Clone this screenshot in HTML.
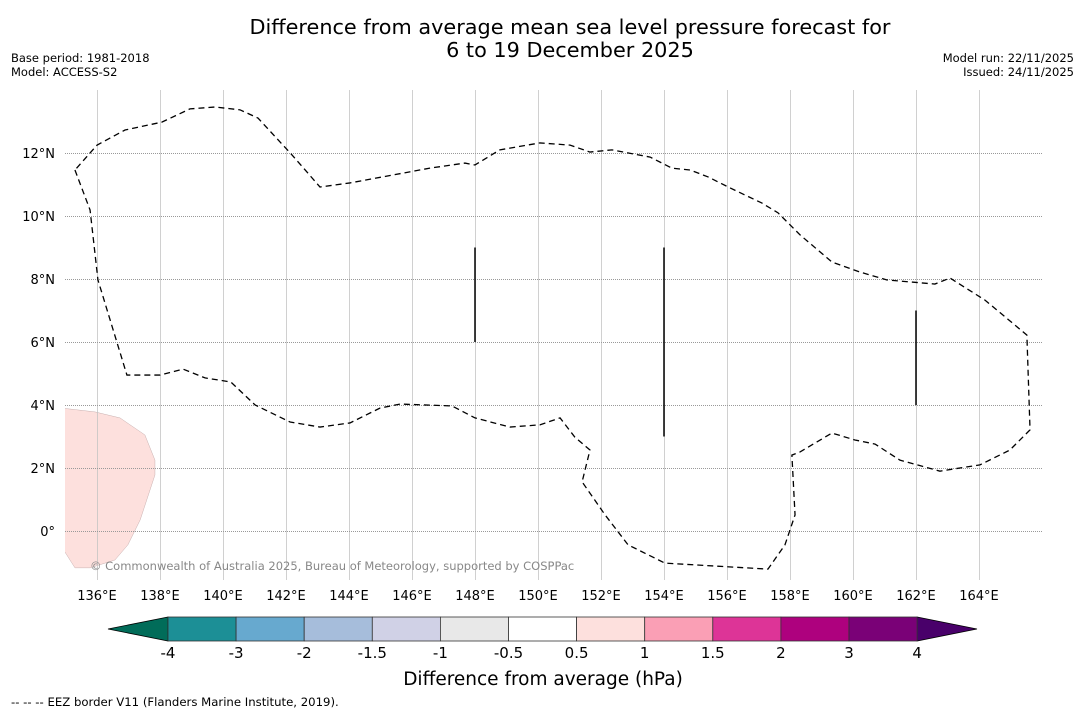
<!DOCTYPE html>
<html><head><meta charset="utf-8"><style>
body{margin:0;background:#fff;width:1085px;height:713px;overflow:hidden;font-family:"DejaVu Sans","Liberation Sans",sans-serif}
svg{display:block}
</style></head><body>
<svg width="1085" height="713" id="svg">
<text x="570" y="34" font-size="20.8" text-anchor="middle">Difference from average mean sea level pressure forecast for</text>
<text x="570" y="57" font-size="20.8" text-anchor="middle">6 to 19 December 2025</text>
<text x="11" y="62" font-size="11.5">Base period: 1981-2018</text>
<text x="11" y="76" font-size="11.5">Model: ACCESS-S2</text>
<text x="1074" y="62" font-size="11.5" text-anchor="end">Model run: 22/11/2025</text>
<text x="1074" y="76" font-size="11.5" text-anchor="end">Issued: 24/11/2025</text>
<defs><clipPath id="pc"><rect x="65" y="90" width="977" height="490"/></clipPath></defs>
<g id="plot" clip-path="url(#pc)"></g>
<g id="axes"></g>
<g id="cbar"></g>
<text x="543" y="685" font-size="18.5" text-anchor="middle">Difference from average (hPa)</text>
<text x="11" y="706" font-size="11.7">--  --  -- EEZ border V11 (Flanders Marine Institute, 2019).</text>
</svg>
<script>
const lonTicks=[136,138,140,142,144,146,148,150,152,154,156,158,160,162,164];
const latTicks=[0,2,4,6,8,10,12];
const eezLon=[135.30,135.78,136.03,136.95,138.0,138.73,139.43,140.25,141.02,142.13,143.08,144.03,144.98,145.62,147.27,148.0,149.11,150.06,150.70,151.17,151.65,151.40,152.13,152.86,154.03,157.30,157.84,158.16,158.06,158.32,159.33,160.06,160.70,161.49,162.76,164.03,164.98,165.62,165.52,164.19,163.08,162.60,161.08,160.22,159.33,158.32,157.62,157.11,156.10,155.40,154.83,154.25,153.56,152.35,151.65,151.02,150.06,148.79,148.0,147.68,146.57,144.03,143.08,142.19,141.11,140.54,139.75,138.95,138.06,136.89,136.0];
const eezLat=[11.46,10.19,7.97,4.95,4.95,5.14,4.86,4.73,4.0,3.46,3.30,3.43,3.90,4.03,3.97,3.59,3.30,3.37,3.59,2.98,2.57,1.56,0.51,-0.44,-1.02,-1.21,-0.44,0.51,2.41,2.51,3.11,2.89,2.76,2.25,1.90,2.10,2.57,3.21,6.22,7.33,8.03,7.84,7.97,8.22,8.54,9.40,10.10,10.41,10.89,11.24,11.46,11.52,11.87,12.10,12.03,12.25,12.32,12.10,11.62,11.68,11.52,11.05,10.92,11.94,13.11,13.37,13.46,13.40,12.98,12.73,12.25];
const blobLon=[134.9,135.94,136.73,137.52,137.84,137.84,137.37,136.98,136.57,135.78,135.30,134.9];
const blobLat=[3.90,3.78,3.59,3.05,2.25,1.78,0.35,-0.44,-0.92,-1.17,-1.17,-0.54];
const segLon=[148,154,162];
const segLat0=[6,3,4];
const segLat1=[9,9,7];
const cbLevels=["-4","-3","-2","-1.5","-1","-0.5","0.5","1","1.5","2","3","4"];
const cbColors=["#1c8f96","#67a9cf","#a6bddb","#d0d1e6","#e8e8e8","#ffffff","#fde0dd","#fa9fb5","#dd3497","#ae017e","#7a0177"];
const NS="http://www.w3.org/2000/svg";
const X=lon=>97+(lon-136)*31.5, Y=lat=>531-lat*31.5;
function mk(p,t,a){const e=document.createElementNS(NS,t);for(const k in a)e.setAttribute(k,a[k]);p.appendChild(e);return e;}
const plot=document.getElementById('plot'),axes=document.getElementById('axes'),cb=document.getElementById('cbar');
let d=blobLon.map((v,i)=>(i?'L':'M')+X(v)+','+Y(blobLat[i])).join('')+'Z';
let b=mk(plot,'path',{d:d,fill:'#fde0dd',stroke:'#c8b0b0','stroke-width':0.5});


lonTicks.forEach(v=>{let l=mk(plot,'line',{x1:X(v)+0.5,x2:X(v)+0.5,y1:90,y2:580,stroke:'#c4c4c4','stroke-width':0.8});


let t=mk(axes,'text',{x:X(v),y:600,'font-size':13,'text-anchor':'middle'});t.textContent=v+'°E';

});
latTicks.forEach(v=>{let l=mk(plot,'line',{x1:65,x2:1042,y1:Y(v)+0.5,y2:Y(v)+0.5,stroke:'#999','stroke-width':1,'stroke-dasharray':'1,1'});


let t=mk(axes,'text',{x:55,y:Y(v)+5,'font-size':13,'text-anchor':'end'});t.textContent=v===0?'0°':v+'°N';

});
d=eezLon.map((v,i)=>(i?'L':'M')+X(v)+','+Y(eezLat[i])).join('')+'Z';
let e=mk(plot,'path',{d:d,fill:'none',stroke:'#000','stroke-width':1.3,'stroke-dasharray':'6,4'});


segLon.forEach((v,i)=>{let s=mk(plot,'line',{x1:X(v),x2:X(v),y1:Y(segLat0[i]),y2:Y(segLat1[i]),stroke:'#000','stroke-width':1.5});

});
let c=mk(plot,'text',{x:90,y:570,'font-size':11.5,fill:'#888'});c.textContent='© Commonwealth of Australia 2025, Bureau of Meteorology, supported by COSPPac';


const cx0=168,cw=68.1,cy=617,ch=24;
let tl=mk(cb,'path',{d:`M${cx0},${cy}L108,${cy+ch/2}L${cx0},${cy+ch}Z`,fill:'#016c59',stroke:'#000','stroke-width':0.8});


const xe=cx0+cw*cbColors.length;
let tr=mk(cb,'path',{d:`M${xe},${cy}L977,${cy+ch/2}L${xe},${cy+ch}Z`,fill:'#49006a',stroke:'#000','stroke-width':0.8});


cbColors.forEach((col,i)=>{let r=mk(cb,'rect',{x:cx0+i*cw,y:cy,width:cw,height:ch,fill:col,stroke:'#333','stroke-width':0.8});

});
cbLevels.forEach((v,i)=>{let t=mk(cb,'text',{x:cx0+i*cw,y:658,'font-size':15,'text-anchor':'middle'});t.textContent=v;

});
</script>
</body></html>
